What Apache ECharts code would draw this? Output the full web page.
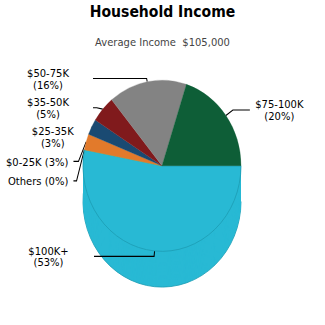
<!DOCTYPE html>
<html>
<head>
<meta charset="utf-8">
<script src="https://cdn.jsdelivr.net/npm/echarts@6/dist/echarts.min.js"></script>
<style>
  html, body { margin: 0; padding: 0; background: #fff; overflow: hidden; }
  #wrap { width: 325px; height: 325px; overflow: hidden; }
  /* the chart is laid out at 325x300 and stretched to fill the square frame */
  #chart { width: 325px; height: 300px; transform: scaleY(1.0833333); transform-origin: 0 0; }
</style>
</head>
<body>
<div id="wrap"><div id="chart"></div></div>
<script>
// Household income distribution (percent of households)
const categories = ['$100K+', 'Others', '$0-25K', '$25-35K', '$35-50K', '$50-75K', '$75-100K'];
const shares     = [53, 0, 3, 3, 5, 16, 20];
const chartTitle = 'Household Income';
const subTitle   = 'Average Income  $105,000';
const inlineLabels = ['Others', '$0-25K'];   // labels written on one line

// styling
const sliceColors = {
  '$100K+': '#28b9d4', 'Others': '#9bbb59', '$0-25K': '#e27a2b', '$25-35K': '#1a4a72',
  '$35-50K': '#801a1c', '$50-75K': '#838383', '$75-100K': '#0e5e37'
};
const lineLens = {
  '$100K+': [5, 1], 'Others': [8, 1], '$0-25K': [8, 1], '$25-35K': [8, 1],
  '$35-50K': [8, 1], '$50-75K': [3, 1], '$75-100K': [8.6, 17]
};
const FONT = 'DejaVu Sans';
const CX = 162, CY = 153, R = 79, DEPTH = 33;
const HIGHLIGHT = '$100K+';
const LEFT_BLOCK = 61;      // width of the left label column
const LEFT_EDGE = 8;

const ctx = document.createElement('canvas').getContext('2d');
ctx.font = '10px "' + FONT + '"';
const textW = s => Math.ceil(ctx.measureText(s).width);

// which side of the pie each slice's label lands on (start at 3 o'clock, clockwise)
const total = shares.reduce((a, b) => a + b, 0);
let acc = 0;
const onLeft = shares.map(v => {
  const mid = -(acc + v / 2) / total * 2 * Math.PI;
  acc += v;
  return Math.cos(mid) < 0;
});

const mainData = categories.map((name, i) => {
  const v = shares[i];
  const pct = '(' + v + '%)';
  const left = onLeft[i];
  let label;
  if (inlineLabels.includes(name)) {
    const text = name + ' ' + pct;
    label = { formatter: text, padding: [2.5, 0, 2.5, left ? LEFT_BLOCK - textW(text) : 0] };
  } else {
    const w = Math.max(textW(name), textW(pct));
    label = {
      formatter: '{c|' + name + '}\n{c|' + pct + '}',
      padding: [1.5, 0, 1.5, left ? LEFT_BLOCK - w : 0],
      rich: { c: { width: w, align: 'center', fontFamily: FONT, fontSize: 10, color: '#000', lineHeight: 11 } }
    };
  }
  // left-hand labels form a right-aligned column; the right-hand label follows its line
  label.alignTo = left ? 'edge' : 'none';
  label.edgeDistance = LEFT_EDGE;
  const col = sliceColors[name];
  return {
    name, value: v,
    itemStyle: name === HIGHLIGHT
      ? { color: col, borderColor: '#1d9db5', borderWidth: 0.8 }
      : { color: col, borderColor: col, borderWidth: 0.3 },
    label,
    labelLine: { length: lineLens[name][0], length2: lineLens[name][1] }
  };
});

// extruded body of the highlighted slice: stacked copies shifted downward
const depthSeries = [];
for (let k = DEPTH; k >= 1; k--) {
  depthSeries.push({
    type: 'pie', silent: true, z: 1,
    center: [CX, CY + k], radius: R,
    startAngle: 0, clockwise: true,
    label: { show: false }, labelLine: { show: false },
    data: categories.map((name, i) => ({
      name, value: shares[i],
      itemStyle: name === HIGHLIGHT
        ? { color: sliceColors[name], borderColor: k === DEPTH ? '#1d9db5' : sliceColors[name], borderWidth: k === DEPTH ? 0.8 : 0 }
        : { opacity: 0 }
    }))
  });
}

const chart = echarts.init(document.getElementById('chart'), null, { renderer: 'svg' });
chart.setOption({
  animation: false,
  backgroundColor: '#fff',
  title: [
    { text: chartTitle, left: 'center', top: 3, padding: 0,
      textStyle: { fontFamily: FONT, fontSize: 14, fontWeight: 'bold', color: '#000' } },
    { text: subTitle, left: 'center', top: 34, padding: 0,
      textStyle: { fontFamily: FONT, fontSize: 10, fontWeight: 'normal', color: '#444' } }
  ],
  series: depthSeries.concat([{
    type: 'pie', z: 5,
    center: [CX, CY], radius: R,
    startAngle: 0, clockwise: true,
    avoidLabelOverlap: true,
    label: {
      show: true, position: 'outside', bleedMargin: 0,
      fontFamily: FONT, fontSize: 10, color: '#000', lineHeight: 11
    },
    labelLine: { show: true, lineStyle: { color: '#000', width: 1 } },
    emphasis: { disabled: true },
    data: mainData
  }])
});
</script>
</body>
</html>
